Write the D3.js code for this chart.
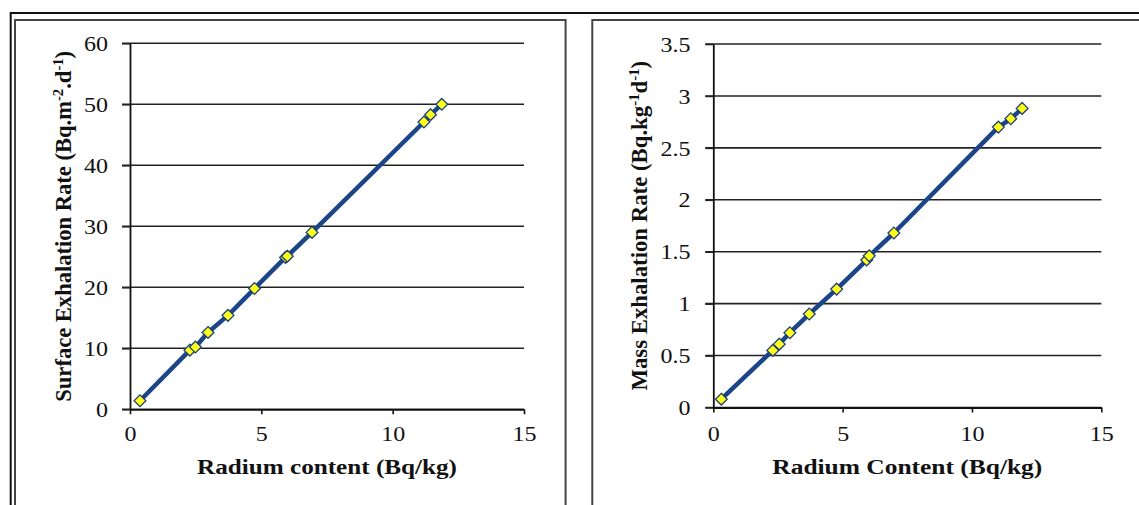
<!DOCTYPE html>
<html>
<head>
<meta charset="utf-8">
<script src="https://cdn.jsdelivr.net/npm/d3@7"></script>
<style>
  html, body { margin: 0; padding: 0; background: #fff; }
  svg { display: block; }
  text { font-family: "Liberation Serif", "Times New Roman", serif; fill: #111; }
</style>
</head>
<body>
<svg id="chart" width="1139" height="505"></svg>
<script>
// ---------- data ----------
const xTicks = [0, 5, 10, 15];

const surfaceRadium = [0.38, 2.28, 2.49, 2.97, 3.73, 4.74, 5.92, 5.99, 6.93, 11.19, 11.44, 11.87];
const surfaceRate   = [1.4, 9.7, 10.2, 12.6, 15.4, 19.8, 24.9, 25.1, 29.0, 47.1, 48.3, 50.0];
const surfaceYTicks = [0, 10, 20, 30, 40, 50, 60];

const massRadium = [0.31, 2.30, 2.55, 2.96, 3.71, 4.77, 5.93, 6.03, 6.98, 11.02, 11.50, 11.94];
const massRate   = [0.08, 0.55, 0.61, 0.72, 0.90, 1.14, 1.42, 1.46, 1.68, 2.70, 2.78, 2.88];
const massYTicks = [0, 0.5, 1, 1.5, 2, 2.5, 3, 3.5];

const surfaceXTitle = "Radium content (Bq/kg)";
const massXTitle = "Radium Content (Bq/kg)";
const surfaceYTitle = [["Surface Exhalation Rate (Bq.m", false], ["-2", true], [".d", false], ["-1", true], [")", false]];
const massYTitle = [["Mass Exhalation Rate (Bq.kg", false], ["-1", true], ["d", false], ["-1", true], [")", false]];

// ---------- drawing ----------
const svg = d3.select("#chart");
svg.append("rect").attr("width", 1139).attr("height", 505).attr("fill", "#fff");

// frames
svg.append("path").attr("d", "M10.7,506 V13 H1140").attr("fill", "none")
  .attr("stroke", "#111").attr("stroke-width", 2);
svg.append("rect").attr("x", 15).attr("y", 20).attr("width", 550.6).attr("height", 600)
  .attr("fill", "none").attr("stroke", "#444").attr("stroke-width", 2);
svg.append("rect").attr("x", 592.3).attr("y", 20).attr("width", 600).attr("height", 600)
  .attr("fill", "none").attr("stroke", "#444").attr("stroke-width", 2);

const SX = 1.2; // horizontal stretch of the original image text
const fmt = d => String(d);

function drawPanel(cfg) {
  const x = d3.scaleLinear().domain([0, 15]).range([cfg.x0, cfg.x1]);
  const y = d3.scaleLinear().domain([0, cfg.yMax]).range([cfg.y0, cfg.y1]);
  const g = svg.append("g");

  // gridlines
  g.append("g").selectAll("line").data(cfg.yTicks).join("line")
    .attr("x1", cfg.x0 - 8).attr("x2", cfg.x1)
    .attr("y1", d => y(d)).attr("y2", d => y(d))
    .attr("stroke", "#222").attr("stroke-width", 1.6);

  // y axis
  const ya = g.append("g").attr("transform", `translate(${cfg.x0},0)`)
    .call(d3.axisLeft(y).tickValues(cfg.yTicks).tickFormat(fmt).tickSize(8).tickSizeOuter(0).tickPadding(cfg.yPad));
  ya.select(".domain").attr("stroke", "#111").attr("stroke-width", 1.8);
  ya.selectAll(".tick line").attr("stroke", "#222").attr("stroke-width", 1.6);
  ya.selectAll(".tick text").attr("font-size", 20).attr("font-family", "Liberation Serif")
    .attr("fill", "#111").attr("transform", `scale(${SX},1)`).attr("dy", "0.36em");

  // x axis
  const xa = g.append("g").attr("transform", `translate(0,${cfg.y0})`)
    .call(d3.axisBottom(x).tickValues(xTicks).tickFormat(fmt).tickSize(5).tickSizeOuter(0).tickPadding(cfg.xPad));
  xa.select(".domain").attr("stroke", "#111").attr("stroke-width", 1.8);
  xa.selectAll(".tick line").attr("stroke", "#111").attr("stroke-width", 1.6);
  xa.selectAll(".tick text").attr("font-size", 20).attr("font-family", "Liberation Serif")
    .attr("fill", "#111").attr("transform", `scale(${SX},1)`);

  // x title
  g.append("text").attr("x", (cfg.x0 + cfg.x1) / 2).attr("y", cfg.xTitleY)
    .attr("text-anchor", "middle").attr("font-weight", "bold").attr("font-size", 20)
    .attr("textLength", cfg.xTitleLen).attr("lengthAdjust", "spacingAndGlyphs")
    .text(cfg.xTitle);

  // y title
  const yt = g.append("text").attr("text-anchor", "middle")
    .attr("font-weight", "bold").attr("font-size", 20);
  cfg.yTitle.forEach(([s, sup]) => {
    const t = yt.append("tspan").text(s);
    if (sup) t.attr("font-size", 13).attr("baseline-shift", "super");
  });
  const len = yt.node().getComputedTextLength();
  const sy = cfg.yTitleLen / len;
  yt.attr("transform", `translate(${cfg.yTitleX},${(cfg.y0 + cfg.y1) / 2}) scale(${SX},${sy}) rotate(-90)`);

  // line + markers
  const pts = cfg.xs.map((v, i) => [v, cfg.ys[i]]).sort((a, b) => a[0] - b[0]);
  g.append("path").datum(pts)
    .attr("d", d3.line().x(d => x(d[0])).y(d => y(d[1])))
    .attr("fill", "none").attr("stroke", "#1c4587").attr("stroke-width", 4.5)
    .attr("stroke-linejoin", "round");

  const sym = d3.symbol().type(d3.symbolDiamond2).size(88);
  g.append("g").selectAll("path").data(pts).join("path")
    .attr("d", sym)
    .attr("transform", d => `translate(${x(d[0])},${y(d[1])})`)
    .attr("fill", "#ffff1a").attr("stroke", "#1c3f7a").attr("stroke-width", 1.3);
}

drawPanel({
  x0: 130, x1: 524, y0: 409.3, y1: 43.3, yMax: 60, yTicks: surfaceYTicks,
  xs: surfaceRadium, ys: surfaceRate, yPad: 10.3, xPad: 13,
  xTitle: surfaceXTitle, xTitleY: 474, xTitleLen: 260,
  yTitle: surfaceYTitle, yTitleX: 70.8, yTitleLen: 351
});

drawPanel({
  x0: 713.3, x1: 1101.3, y0: 407.5, y1: 44, yMax: 3.5, yTicks: massYTicks,
  xs: massRadium, ys: massRate, yPad: 11, xPad: 14.5,
  xTitle: massXTitle, xTitleY: 474, xTitleLen: 270,
  yTitle: massYTitle, yTitleX: 647, yTitleLen: 330
});
</script>
</body>
</html>
